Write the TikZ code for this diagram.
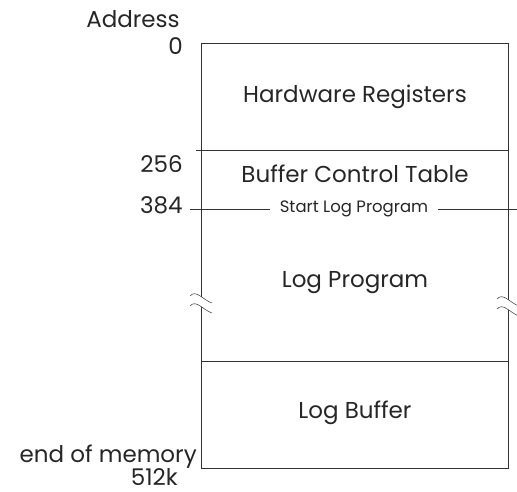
\documentclass[tikz,border=0pt]{standalone}
\usepackage{fontspec}
\setmainfont{Poppins}
\usetikzlibrary{positioning}

\begin{document}
\begin{tikzpicture}
        [
        x=1pt, y=-1pt,
        line width=0.6pt,
        every node/.style={inner sep=0pt, text=black!85},
        region/.style={font=\fontsize{23}{27}\selectfont},
        marker/.style={font=\fontsize{16.5}{20}\selectfont, fill=white, inner xsep=10pt, inner ysep=2pt},
        addr/.style={font=\fontsize{23}{26}\selectfont, anchor=base east},
        wall/.style={draw=black!80},
        breakmark/.style={draw=black!80, line width=0.5pt}
        ]
        \useasboundingbox (0,0) rectangle (517,492);
        % Memory box corners
        \coordinate (nw) at (201,43);
        \coordinate (ne) at (508,43);
        \coordinate (sw) at (201,468);
        \coordinate (se) at (508,468);
        \draw[wall] (nw) rectangle (se);
        % Dividing lines
        \coordinate (tbl west) at (196,150);
        \coordinate (tbl east) at (508,150);
        \coordinate (log west) at (190,209);
        \coordinate (log east) at (517,209);
        \coordinate (buf west) at (201,361);
        \coordinate (buf east) at (508,361);
        \draw[wall] (tbl west) -- (tbl east);
        \draw[wall] (log west) -- (log east);
        \draw[wall] (buf west) -- (buf east);
        % Break marks on both walls
        \foreach \bx/\by in {201/292, 508/295}
        {
          \fill[white] (\bx-11,\by+4) .. controls (\bx-5,\by-3) and (\bx+2,\by+8) .. (\bx+11,\by+11)
            -- (\bx+11,\by+21) .. controls (\bx+2,\by+18) and (\bx-5,\by+7) .. (\bx-11,\by+14) -- cycle;
          \draw[breakmark] (\bx-11,\by+4) .. controls (\bx-5,\by-3) and (\bx+2,\by+8) .. (\bx+11,\by+11);
          \draw[breakmark] (\bx-11,\by+14) .. controls (\bx-5,\by+7) and (\bx+2,\by+18) .. (\bx+11,\by+21);
        }
        % Regions
        \node[region] (hw) at (355,97) {Hardware Registers};
        \node[region] (bct) at (355,174) {Buffer Control Table};
        \node[marker] (start) at (354,209) {Start Log Program};
        \node[region] (prog) at (355,283) {Log Program};
        \node[region] (logbuf) at (355,413) {Log Buffer};
        % Addresses
        \node[addr] (address) at (180,28) {Address};
        \node[addr] (a0) at (183,55) {0};
        \node[addr] (a256) at (183,172) {256};
        \node[addr] (a384) at (183,213) {384};
        \node[addr] (aend) at (197,462) {end of memory};
        \node[addr] (a512) at (178,485) {512k};
\end{tikzpicture}
\end{document}
